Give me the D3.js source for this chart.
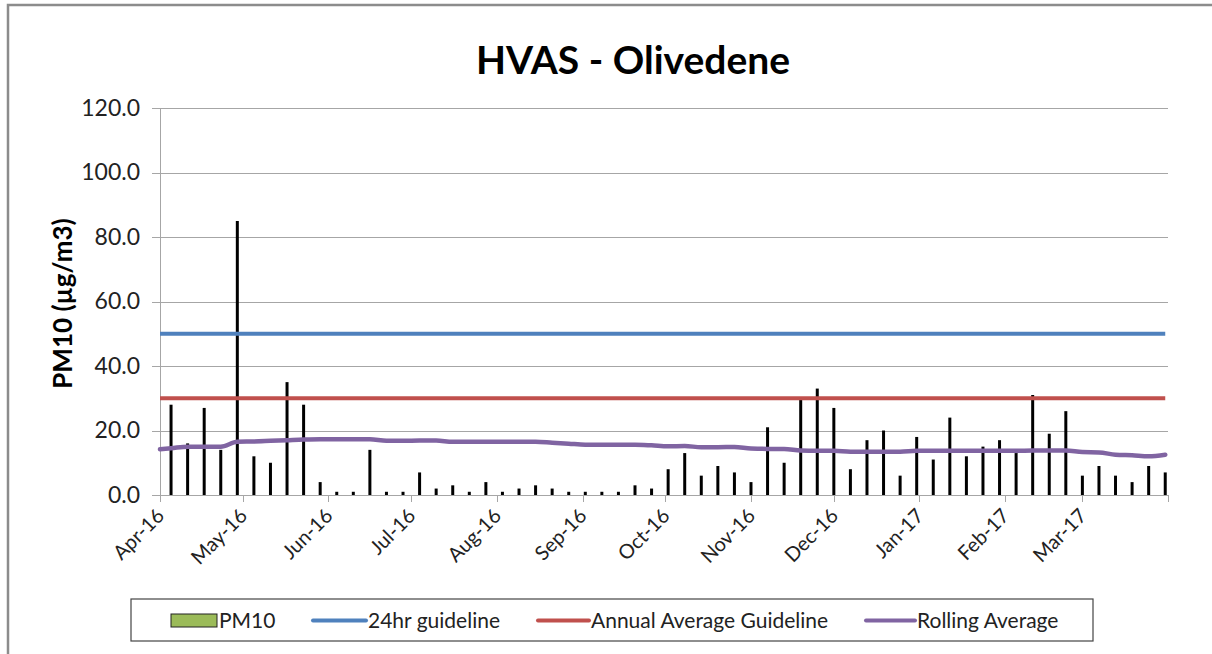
<!DOCTYPE html>
<meta charset="utf-8">
<style>

    body {
        margin: 0;
        font-family: Lato, "Open Sans", sans-serif;
        background: #fff;
    }

    .grid line {
        stroke: #a6a6a6;
        stroke-width: 1px;
        shape-rendering: crispEdges;
    }

    .grid path {
        stroke-width: 0;
    }

    .axis path, .axis line {
        stroke: #a6a6a6;
        shape-rendering: crispEdges;
    }

    .axis text {
        fill: #222;
        font-family: Lato, "Open Sans", sans-serif;
    }

</style>

<svg width="1212" height="654"></svg>

<script src="https://cdn.jsdelivr.net/npm/d3@7"></script>
<script>

    // sample dates (one every 6 days)
    var sampleDates = [
        "2016-04-05", "2016-04-11", "2016-04-17", "2016-04-23", "2016-04-29",
        "2016-05-05", "2016-05-11", "2016-05-17", "2016-05-23", "2016-05-29",
        "2016-06-04", "2016-06-10", "2016-06-16", "2016-06-22", "2016-06-28",
        "2016-07-04", "2016-07-10", "2016-07-16", "2016-07-22", "2016-07-28",
        "2016-08-03", "2016-08-09", "2016-08-15", "2016-08-21", "2016-08-27",
        "2016-09-02", "2016-09-08", "2016-09-14", "2016-09-20", "2016-09-26",
        "2016-10-02", "2016-10-08", "2016-10-14", "2016-10-20", "2016-10-26",
        "2016-11-01", "2016-11-07", "2016-11-13", "2016-11-19", "2016-11-25",
        "2016-12-01", "2016-12-07", "2016-12-13", "2016-12-19", "2016-12-25", "2016-12-31",
        "2017-01-06", "2017-01-12", "2017-01-18", "2017-01-24", "2017-01-30",
        "2017-02-05", "2017-02-11", "2017-02-17", "2017-02-23",
        "2017-03-01", "2017-03-07", "2017-03-13", "2017-03-19", "2017-03-25", "2017-03-31"
    ];

    // PM10 (µg/m3) per sample
    var pm10 = [
        28, 16, 27, 14, 85,
        12, 10, 35, 28, 4,
        1, 1, 14, 1, 1,
        7, 2, 3, 1, 4,
        1, 2, 3, 2, 1,
        1, 1, 1, 3, 2,
        8, 13, 6, 9, 7,
        4, 21, 10, 29.5, 33,
        27, 8, 17, 20, 6, 18,
        11, 24, 12, 15, 17,
        13, 31, 19, 26,
        6, 9, 6, 4, 9, 7
    ];

    // rolling average, first value is at the start of the axis
    var rollStart = {date: "2016-04-01", value: 14.2};
    var rolling = [
        14.5, 15.0, 15.0, 15.0, 16.5,
        16.6, 16.8, 17.0, 17.2, 17.3,
        17.3, 17.3, 17.3, 16.8, 16.8,
        16.9, 16.9, 16.5, 16.5, 16.5,
        16.5, 16.5, 16.5, 16.2, 15.9,
        15.6, 15.6, 15.6, 15.6, 15.4,
        15.1, 15.2, 14.8, 14.8, 14.9,
        14.4, 14.3, 14.3, 13.8, 13.7,
        13.7, 13.4, 13.4, 13.4, 13.4, 13.7,
        13.7, 13.7, 13.7, 13.7, 13.7,
        13.7, 13.8, 13.8, 13.8,
        13.3, 13.2, 12.5, 12.3, 12.0, 12.5
    ];

    var guideline24hr = 50;
    var guidelineAnnual = 30;

    var xDomain = ["2016-04-01", "2017-04-01"];
    var yTicks = [0, 20, 40, 60, 80, 100, 120];

    var parseDate = d3.timeParse("%Y-%m-%d");

    var svg = d3.select("svg"),
        margin = {top: 108, right: 44, bottom: 159, left: 160},
        width = svg.attr("width") - margin.left - margin.right,
        height = svg.attr("height") - margin.top - margin.bottom;

    // outer frame of the chart
    svg.append("path")
        .attr("d", "M8,660 V5 H1220")
        .attr("fill", "none")
        .attr("stroke", "#8c8c8c")
        .attr("stroke-width", 2.5);

    var g = svg.append("g").attr("transform", "translate(" + margin.left + "," + margin.top + ")");

    var x = d3.scaleTime()
        .domain(xDomain.map(parseDate))
        .range([0, width]);

    var y = d3.scaleLinear()
        .domain([0, 120])
        .range([height, 0]);

    var data = sampleDates.map(function(d, i) {
        return {date: parseDate(d), pm10: pm10[i], roll: rolling[i]};
    });

    // title
    svg.append("text")
        .attr("x", 633)
        .attr("y", 74)
        .attr("text-anchor", "middle")
        .style("font-size", "39px")
        .style("font-weight", "bold")
        .text("HVAS - Olivedene");

    // horizontal gridlines
    g.append("g")
        .attr("class", "grid")
        .call(d3.axisLeft(y)
            .tickValues(yTicks)
            .tickSize(-width)
            .tickFormat("")
        );

    // y axis
    var yAxis = g.append("g")
        .attr("class", "axis axis--y")
        .call(d3.axisLeft(y)
            .tickValues(yTicks)
            .tickSize(8)
            .tickPadding(12)
            .tickFormat(d3.format(".1f")));
    yAxis.selectAll("text").style("font-size", "23px");

    // x axis
    var endDate = parseDate(xDomain[1]);
    var xAxis = g.append("g")
        .attr("class", "axis axis--x")
        .attr("transform", "translate(0," + height + ")")
        .call(d3.axisBottom(x)
            .ticks(d3.timeMonth.every(1))
            .tickSize(7)
            .tickFormat(function(d) {
                return +d == +endDate ? "" : d3.timeFormat("%b-%y")(d);
            }));

    xAxis.select(".domain").raise();

    xAxis.selectAll("text")
        .style("font-size", "20px")
        .attr("text-anchor", "end")
        .attr("dy", null)
        .attr("transform", "translate(5,22) rotate(-45)")
        .attr("y", 0)
        .attr("x", 0);

    // y axis title
    svg.append("text")
        .attr("transform", "translate(72," + (margin.top + height / 2 + 2) + ") rotate(-90)")
        .attr("text-anchor", "middle")
        .style("font-size", "26px")
        .style("font-weight", "bold")
        .text("PM10 (µg/m3)");

    // PM10 bars
    g.selectAll(".bar")
        .data(data)
        .enter().append("line")
        .attr("class", "bar")
        .attr("x1", function(d) { return x(d.date); })
        .attr("x2", function(d) { return x(d.date); })
        .attr("y1", y(0))
        .attr("y2", function(d) { return y(d.pm10); })
        .attr("stroke", "#000")
        .attr("stroke-width", 3);

    // guideline lines
    var xEnd = d3.max(data, function(d) { return d.date; });

    g.append("line")
        .attr("x1", 0)
        .attr("x2", x(xEnd))
        .attr("y1", y(guideline24hr))
        .attr("y2", y(guideline24hr))
        .attr("stroke", "#4f81bd")
        .attr("stroke-width", 4);

    g.append("line")
        .attr("x1", 0)
        .attr("x2", x(xEnd))
        .attr("y1", y(guidelineAnnual))
        .attr("y2", y(guidelineAnnual))
        .attr("stroke", "#c0504d")
        .attr("stroke-width", 4);

    // rolling average
    var rollData = [{date: parseDate(rollStart.date), roll: rollStart.value}].concat(data);

    var line = d3.line()
        .curve(d3.curveMonotoneX)
        .x(function(d) { return x(d.date); })
        .y(function(d) { return y(d.roll); });

    g.append("path")
        .datum(rollData)
        .attr("d", line)
        .attr("fill", "none")
        .attr("stroke", "#8064a2")
        .attr("stroke-width", 4.5)
        .attr("stroke-linejoin", "round")
        .attr("stroke-linecap", "round");

    // legend
    var legend = svg.append("g").attr("class", "legend");

    legend.append("rect")
        .attr("x", 131)
        .attr("y", 599)
        .attr("width", 962)
        .attr("height", 42)
        .attr("fill", "#fff")
        .attr("stroke", "#444")
        .attr("stroke-width", 1.2);

    var legendItems = [
        {name: "PM10", type: "rect", color: "#9bbb59", x: 171, w: 46},
        {name: "24hr guideline", type: "line", color: "#4f81bd", x: 313, w: 53},
        {name: "Annual Average Guideline", type: "line", color: "#c0504d", x: 538, w: 51},
        {name: "Rolling Average", type: "line", color: "#8064a2", x: 866, w: 49}
    ];

    legendItems.forEach(function(item) {
        if (item.type == "rect") {
            legend.append("rect")
                .attr("x", item.x)
                .attr("y", 614)
                .attr("width", item.w)
                .attr("height", 13)
                .attr("fill", item.color)
                .attr("stroke", "#222")
                .attr("stroke-width", 1);
        } else {
            legend.append("line")
                .attr("x1", item.x)
                .attr("x2", item.x + item.w)
                .attr("y1", 620.5)
                .attr("y2", 620.5)
                .attr("stroke", item.color)
                .attr("stroke-width", 4)
                .attr("stroke-linecap", "round");
        }
        legend.append("text")
            .attr("x", item.x + item.w + 2)
            .attr("y", 628)
            .style("font-size", "21px")
            .style("fill", "#222")
            .text(item.name);
    });

</script>
